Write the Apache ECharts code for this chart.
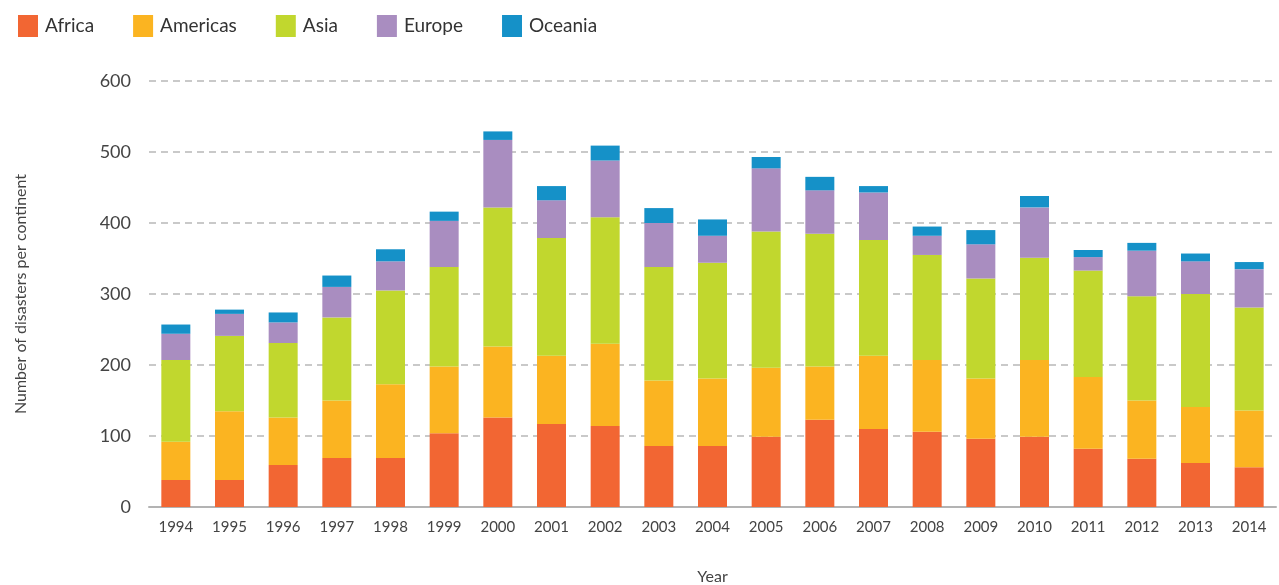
<!DOCTYPE html>
<html>
<head>
<meta charset="utf-8">
<script src="https://cdn.jsdelivr.net/npm/echarts@6/dist/echarts.min.js"></script>
<style>
  html, body { margin: 0; padding: 0; background: #fff; }
  #chart { width: 1279px; height: 585px; }
</style>
</head>
<body>
<div id="chart"></div>
<script>
// data
const years = ['1994', '1995', '1996', '1997', '1998', '1999', '2000', '2001', '2002', '2003', '2004',
  '2005', '2006', '2007', '2008', '2009', '2010', '2011', '2012', '2013', '2014']
const africa = [38, 38, 59, 69, 69, 104, 126, 117, 114, 86, 86, 99, 123, 110, 106, 96, 99, 82, 68, 62, 56]
const americas = [54, 97, 67, 81, 104, 94, 100, 96, 116, 92, 95, 97, 75, 103, 101, 85, 108, 101, 82, 79, 80]
const asia = [115, 106, 105, 117, 132, 140, 196, 166, 178, 160, 163, 192, 187, 163, 148, 141, 144, 150, 147, 159, 145]
const europe = [37, 31, 29, 43, 41, 65, 95, 53, 80, 62, 38, 89, 61, 67, 27, 48, 71, 19, 64, 46, 54]
const oceania = [13, 6, 14, 16, 17, 13, 12, 20, 21, 21, 23, 16, 19, 9, 13, 20, 16, 10, 11, 11, 10]
const yTicks = [0, 100, 200, 300, 400, 500, 600]

const colors = ['#f26633', '#fbb421', '#c1d72e', '#a98dc0', '#1591c8']
const font = 'Lato, "Open Sans", sans-serif'

const chart = echarts.init(document.getElementById('chart'))

const seriesList = [
  ['Africa', africa],
  ['Americas', americas],
  ['Asia', asia],
  ['Europe', europe],
  ['Oceania', oceania]
].map((s, i) => {
  return {
    name: s[0],
    type: 'bar',
    stack: 'total',
    barWidth: 29,
    data: s[1],
    itemStyle: { color: colors[i] }
  }
})

const option = {
  animation: false,
  color: colors,
  legend: {
    left: 13,
    top: 10,
    itemWidth: 20,
    itemHeight: 22,
    itemGap: 39,
    icon: 'rect',
    textStyle: { fontFamily: font, fontSize: 19, color: '#333', padding: [0, 0, 0, 2] }
  },
  grid: { left: 149, right: 3, top: 81, bottom: 78, outerBoundsMode: 'none', containLabel: false },
  xAxis: {
    type: 'category',
    data: years,
    name: 'Year',
    nameLocation: 'middle',
    nameGap: 62,
    nameTextStyle: { fontFamily: font, fontSize: 16, color: '#444' },
    axisLine: { lineStyle: { color: '#b3b3b3', width: 2 } },
    axisTick: { alignWithLabel: true, length: 8, lineStyle: { color: '#c0c0c0', width: 1.5 } },
    axisLabel: { fontFamily: font, fontSize: 15, color: '#444', margin: 13 }
  },
  yAxis: {
    type: 'value',
    min: yTicks[0],
    max: yTicks[yTicks.length - 1],
    interval: 100,
    name: 'Number of disasters per continent',
    nameLocation: 'middle',
    nameGap: 120,
    nameTextStyle: { fontFamily: font, fontSize: 16, color: '#444' },
    axisLine: { show: false },
    axisTick: { show: false },
    axisLabel: { fontFamily: font, fontSize: 18, color: '#444', margin: 18 },
    splitLine: { lineStyle: { color: '#b8b8b8', type: [7, 5], width: 1.5 } }
  },
  series: seriesList
}

chart.setOption(option)
</script>
</body>
</html>
